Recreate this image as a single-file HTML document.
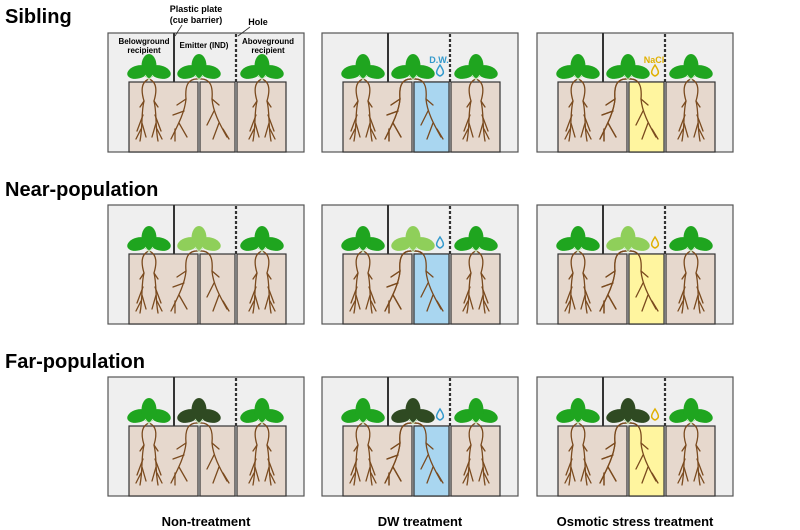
<!DOCTYPE html>
<html><head><meta charset="utf-8"><style>
html,body{margin:0;padding:0;background:#fff}
svg{display:block}
text{font-family:"Liberation Sans",Arial,sans-serif;font-weight:bold}
</style></head><body>
<svg width="800" height="530" viewBox="0 0 800 530" xmlns="http://www.w3.org/2000/svg">
<defs>
  <g id="roots1" fill="none" stroke="#7a4a1e" stroke-width="1.3" stroke-linecap="round">
    <path d="M0,0 C-8,3 -8,12 -5,22 C-8,34 -6,46 -9,62"/>
    <path d="M0,0 C8,3 8,12 5,22 C8,34 6,46 9,62"/>
    <path d="M-5,22 L-9,28 M-6,36 L-12,52 M-7,44 L-3,58 M-8,50 L-13,60"/>
    <path d="M5,22 L9,28 M6,36 L12,52 M7,44 L3,58 M8,50 L13,60"/>
  </g>
  <g id="rootsE" fill="none" stroke="#7a4a1e" stroke-width="1.3" stroke-linecap="round">
    <path d="M0,0 C-12,-1 -14,8 -13,20 C-14,32 -20,44 -28,60"/>
    <path d="M-13,20 L-22,26 M-15,32 L-26,36 M-20,44 L-12,58 M-24,50 L-24,62"/>
    <path d="M0,0 C12,-1 14,8 13,20 C14,32 20,44 28,58"/>
    <path d="M13,20 L20,26 M15,32 L8,46 M20,44 L14,60 M24,50 L30,60"/>
  </g>
  <g id="panel">
    <rect x="0" y="0" width="196" height="119" fill="#efefef" stroke="#555" stroke-width="1.2"/>
    <rect x="21" y="49" width="69" height="70" fill="#e6d8cd" stroke="#333" stroke-width="1.2"/>
    <rect x="92" y="49" width="35" height="70" fill="#e6d8cd" stroke="#333" stroke-width="1.2"/>
    <rect x="129" y="49" width="49" height="70" fill="#e6d8cd" stroke="#333" stroke-width="1.2"/>
    <line x1="66" y1="0" x2="66" y2="49" stroke="#333" stroke-width="2"/>
    <line x1="128" y1="1" x2="128" y2="49" stroke="#333" stroke-width="2.2" stroke-dasharray="3,2"/>
    <use href="#roots1" x="41" y="46"/>
    <use href="#rootsE" x="91" y="46"/>
    <use href="#roots1" x="154" y="46"/>
  </g>
  <g id="plant">
    <ellipse cx="-11" cy="-7" rx="11" ry="6.5" transform="rotate(-15 -11 -7)"/>
    <ellipse cx="11" cy="-7" rx="11" ry="6.5" transform="rotate(15 11 -7)"/>
    <ellipse cx="0" cy="-13" rx="7.5" ry="12"/>
    <path d="M-4,-4 L0,1 L4,-4" stroke="#c8f0c0" stroke-width="1" fill="none"/>
  </g>
</defs>

<text x="5" y="23" font-size="20">Sibling</text>
<text x="5" y="196" font-size="20">Near-population</text>
<text x="5" y="368" font-size="20">Far-population</text>

<!-- Row 1 -->
<g transform="translate(108,33)">
  <use href="#panel"/>
  <use href="#plant" x="41" y="46" fill="#1fa51f"/><use href="#plant" x="91" y="46" fill="#1fa51f"/><use href="#plant" x="154" y="46" fill="#1fa51f"/>
  <text x="36" y="11" font-size="8" text-anchor="middle">Belowground</text>
  <text x="36" y="20" font-size="8" text-anchor="middle">recipient</text>
  <text x="96" y="15" font-size="8" text-anchor="middle">Emitter (IND)</text>
  <text x="160" y="11" font-size="8" text-anchor="middle">Aboveground</text>
  <text x="160" y="20" font-size="8" text-anchor="middle">recipient</text>
</g>
<g transform="translate(322,33)">
  <use href="#panel"/>
  <rect x="92" y="49" width="35" height="70" fill="#a9d6f0" stroke="#333" stroke-width="1.2"/>
  <use href="#rootsE" x="91" y="46"/>
  <use href="#plant" x="41" y="46" fill="#1fa51f"/><use href="#plant" x="91" y="46" fill="#1fa51f"/><use href="#plant" x="154" y="46" fill="#1fa51f"/>
  <text x="117" y="30" font-size="9" fill="#3399cc" text-anchor="middle">D.W.</text>
  <path d="M118,32 C114,38 113,41 118,43 C123,41 122,38 118,32Z" fill="none" stroke="#3399cc" stroke-width="1.5"/>
</g>
<g transform="translate(537,33)">
  <use href="#panel"/>
  <rect x="92" y="49" width="35" height="70" fill="#fff59f" stroke="#333" stroke-width="1.2"/>
  <use href="#rootsE" x="91" y="46"/>
  <use href="#plant" x="41" y="46" fill="#1fa51f"/><use href="#plant" x="91" y="46" fill="#1fa51f"/><use href="#plant" x="154" y="46" fill="#1fa51f"/>
  <text x="117" y="30" font-size="9" fill="#e0b000" text-anchor="middle">NaCl</text>
  <path d="M118,32 C114,38 113,41 118,43 C123,41 122,38 118,32Z" fill="none" stroke="#e0b000" stroke-width="1.5"/>
</g>
<text x="196" y="12" font-size="9" text-anchor="middle">Plastic plate</text>
<text x="196" y="23" font-size="9" text-anchor="middle">(cue barrier)</text>
<line x1="175" y1="36" x2="182" y2="25" stroke="#333" stroke-width="0.8"/>
<text x="258" y="25" font-size="9" text-anchor="middle">Hole</text>
<line x1="238" y1="36" x2="250" y2="27" stroke="#333" stroke-width="0.8"/>

<!-- Row 2 -->
<g transform="translate(108,205)">
  <use href="#panel"/>
  <use href="#plant" x="41" y="46" fill="#1fa51f"/><use href="#plant" x="91" y="46" fill="#8fcf5a"/><use href="#plant" x="154" y="46" fill="#1fa51f"/>
</g>
<g transform="translate(322,205)">
  <use href="#panel"/>
  <rect x="92" y="49" width="35" height="70" fill="#a9d6f0" stroke="#333" stroke-width="1.2"/>
  <use href="#rootsE" x="91" y="46"/>
  <use href="#plant" x="41" y="46" fill="#1fa51f"/><use href="#plant" x="91" y="46" fill="#8fcf5a"/><use href="#plant" x="154" y="46" fill="#1fa51f"/>
  <path d="M118,32 C114,38 113,41 118,43 C123,41 122,38 118,32Z" fill="none" stroke="#3399cc" stroke-width="1.5"/>
</g>
<g transform="translate(537,205)">
  <use href="#panel"/>
  <rect x="92" y="49" width="35" height="70" fill="#fff59f" stroke="#333" stroke-width="1.2"/>
  <use href="#rootsE" x="91" y="46"/>
  <use href="#plant" x="41" y="46" fill="#1fa51f"/><use href="#plant" x="91" y="46" fill="#8fcf5a"/><use href="#plant" x="154" y="46" fill="#1fa51f"/>
  <path d="M118,32 C114,38 113,41 118,43 C123,41 122,38 118,32Z" fill="none" stroke="#e0b000" stroke-width="1.5"/>
</g>

<!-- Row 3 -->
<g transform="translate(108,377)">
  <use href="#panel"/>
  <use href="#plant" x="41" y="46" fill="#1fa51f"/><use href="#plant" x="91" y="46" fill="#2f4a22"/><use href="#plant" x="154" y="46" fill="#1fa51f"/>
</g>
<g transform="translate(322,377)">
  <use href="#panel"/>
  <rect x="92" y="49" width="35" height="70" fill="#a9d6f0" stroke="#333" stroke-width="1.2"/>
  <use href="#rootsE" x="91" y="46"/>
  <use href="#plant" x="41" y="46" fill="#1fa51f"/><use href="#plant" x="91" y="46" fill="#2f4a22"/><use href="#plant" x="154" y="46" fill="#1fa51f"/>
  <path d="M118,32 C114,38 113,41 118,43 C123,41 122,38 118,32Z" fill="none" stroke="#3399cc" stroke-width="1.5"/>
</g>
<g transform="translate(537,377)">
  <use href="#panel"/>
  <rect x="92" y="49" width="35" height="70" fill="#fff59f" stroke="#333" stroke-width="1.2"/>
  <use href="#rootsE" x="91" y="46"/>
  <use href="#plant" x="41" y="46" fill="#1fa51f"/><use href="#plant" x="91" y="46" fill="#2f4a22"/><use href="#plant" x="154" y="46" fill="#1fa51f"/>
  <path d="M118,32 C114,38 113,41 118,43 C123,41 122,38 118,32Z" fill="none" stroke="#e0b000" stroke-width="1.5"/>
</g>

<text x="206" y="526" font-size="13" text-anchor="middle">Non-treatment</text>
<text x="420" y="526" font-size="13" text-anchor="middle">DW treatment</text>
<text x="635" y="526" font-size="13" text-anchor="middle">Osmotic stress treatment</text>
</svg>
</body></html>
